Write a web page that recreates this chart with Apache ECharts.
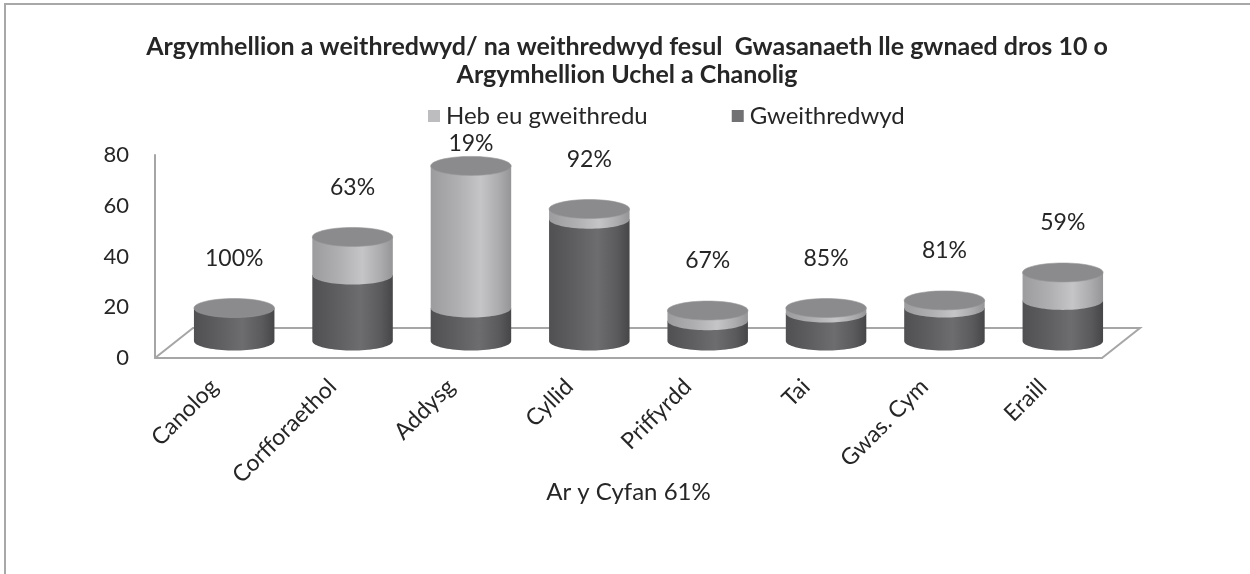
<!DOCTYPE html>
<html>
<head>
<meta charset="utf-8">
<script src="https://cdn.jsdelivr.net/npm/echarts@6/dist/echarts.min.js"></script>
<style>
html,body{margin:0;padding:0;background:#fff;}
#chart{width:1250px;height:574px;}
</style>
</head>
<body>
<div id="chart"></div>
<script>
// ---- data ----
const categories = ['Canolog', 'Corfforaethol', 'Addysg', 'Cyllid', 'Priffyrdd', 'Tai', 'Gwas. Cym', 'Eraill'];
const gweithredwyd = [13, 26, 13, 48, 8, 11, 13, 16];        // implemented
const hebEuGweithredu = [0, 15, 56, 4, 4, 2, 3, 11];         // not implemented
const pctLabels = ['100%', '63%', '19%', '92%', '67%', '85%', '81%', '59%'];
const yMin = 0, yMax = 80, yStep = 20;
const titleText = 'Argymhellion a weithredwyd/ na weithredwyd fesul  Gwasanaeth lle gwnaed dros 10 o\nArgymhellion Uchel a Chanolig';
const overallText = 'Ar y Cyfan 61%';

// ---- style ----
const FONT = 'Lato, sans-serif';
const TXT = '#262626';
const DEPTH_X = 38, DEPTH_Y = 30;     // floor depth (oblique)
const BAR_DX = 20, BAR_DY = 17;       // cylinders sit mid-depth
const RY = 9.5;

const darkSide = {type:'linear', x:0, y:0, x2:1, y2:0, colorStops:[
  {offset:0, color:'#505052'}, {offset:0.3, color:'#5e5e60'}, {offset:0.6, color:'#6d6d6f'},
  {offset:0.85, color:'#5a5a5c'}, {offset:1, color:'#464648'}]};
const lightSide = {type:'linear', x:0, y:0, x2:1, y2:0, colorStops:[
  {offset:0, color:'#9c9c9e'}, {offset:0.35, color:'#b0b0b2'}, {offset:0.62, color:'#c5c5c7'},
  {offset:0.85, color:'#ababad'}, {offset:1, color:'#959597'}]};
const topColor = '#8b8b8d';

function ellipsePts(cx, cy, rx, ry, a0, a1, n) {
  const pts = [];
  for (let k = 0; k <= n; k++) {
    const t = a0 + (a1 - a0) * k / n;
    pts.push([cx + rx * Math.cos(t), cy + ry * Math.sin(t)]);
  }
  return pts;
}

function cylinder(api, sideFill, drawTop) {
  const i = api.value(0);
  const p0 = api.coord([i, api.value(1)]);
  const p1 = api.coord([i, api.value(2)]);
  const band = api.size([1, 0])[0];
  const rx = band * 0.34;
  const cx = p0[0] + BAR_DX;
  const yb = p0[1] - BAR_DY, yt = p1[1] - BAR_DY;
  const side = [[cx - rx, yt]].concat(ellipsePts(cx, yb, rx, RY, Math.PI, 0, 40)).concat([[cx + rx, yt]]);
  const children = [{type:'polygon', shape:{points: side}, style:{fill: sideFill}}];
  if (drawTop) {
    children.push({type:'polygon', shape:{points: ellipsePts(cx, yt, rx, RY, 0, Math.PI * 2, 60)},
      style:{fill: topColor, stroke:'#98989a', lineWidth:0.6}});
  }
  return {cx, yt, children};
}

const darkData = categories.map((c, i) => [i, 0, gweithredwyd[i]]);
const lightData = categories.map((c, i) => [i, gweithredwyd[i], gweithredwyd[i] + hebEuGweithredu[i]]);

const chart = echarts.init(document.getElementById('chart'), null, {renderer:'canvas'});
chart.setOption({
  backgroundColor:'#ffffff',
  animation:false,
  title:{
    text: titleText, left: 622, top: 28, textAlign:'center',
    textStyle:{fontFamily: FONT, fontWeight:'bold', fontSize:25, color: TXT, lineHeight:28}
  },
  legend:{
    data:['Heb eu gweithredu', 'Gweithredwyd'],
    left: 423, top: 99, itemWidth: 12, itemHeight: 12, itemGap: 84,
    icon:'rect',
    textStyle:{fontFamily: FONT, fontSize:24, color: TXT, padding:[0,0,0,1]}
  },
  graphic:[{type:'rect', x:5, y:4, shape:{x:0, y:0, width:1400, height:800},
    style:{fill:'none', stroke:'#a8a8a8', lineWidth:2}, silent:true, z:-10}],
  grid:{left:155, right:148, top:155, bottom:216},
  xAxis:{
    type:'category', data: categories,
    axisLine:{show:true, lineStyle:{color:'#a6a6a6', width:2}},
    axisTick:{show:false},
    axisLabel:{rotate:45, margin:25, fontFamily: FONT, fontSize:23, color: TXT, interval:0},
    name: overallText, nameLocation:'middle', nameGap:122, nameMoveOverlap:false,
    nameTextStyle:{fontFamily: FONT, fontSize:24, color: TXT}
  },
  yAxis:{
    type:'value', min:yMin, max:yMax, interval:yStep,
    axisLine:{show:true, lineStyle:{color:'#a6a6a6', width:2}},
    axisTick:{show:false}, splitLine:{show:false},
    axisLabel:{margin:26, fontFamily: FONT, fontSize:22, color: TXT}
  },
  series:[
    {
      type:'custom', name:'floor', data:[[0, 0]], encode:{x:0, y:1}, silent:true,
      renderItem:function(params, api){
        const band = api.size([1, 0])[0];
        const a = api.coord([0, 0]);
        const b = api.coord([categories.length - 1, 0]);
        const L = a[0] - band / 2, R = b[0] + band / 2, y = a[1];
        return {type:'polyline', shape:{points:[[L, y], [L + DEPTH_X, y - DEPTH_Y], [R + DEPTH_X, y - DEPTH_Y], [R, y]]},
          style:{stroke:'#a6a6a6', lineWidth:2, fill:'none'}};
      }
    },
    {
      type:'custom', name:'Gweithredwyd', data: darkData, encode:{x:0, y:[1, 2]},
      itemStyle:{color:'#717173'},
      renderItem:function(params, api){
        const i = api.value(0);
        const c = cylinder(api, darkSide, hebEuGweithredu[i] === 0);
        return {type:'group', children:c.children};
      }
    },
    {
      type:'custom', name:'Heb eu gweithredu', data: lightData, encode:{x:0, y:[1, 2]},
      itemStyle:{color:'#bdbdbf'},
      renderItem:function(params, api){
        const i = api.value(0);
        const c = cylinder(api, lightSide, true);
        const children = hebEuGweithredu[i] > 0 ? c.children : [];
        const yLimit = api.coord([0, yMax])[1] - 11;
        const ly = Math.max(c.yt - RY - 40, yLimit);
        children.push({type:'text', style:{text: pctLabels[i], x: c.cx, y: ly, align:'center', verticalAlign:'middle',
          fontFamily: FONT, fontSize:23, fill: TXT}});
        return {type:'group', children};
      }
    }
  ]
});
</script>
</body>
</html>
